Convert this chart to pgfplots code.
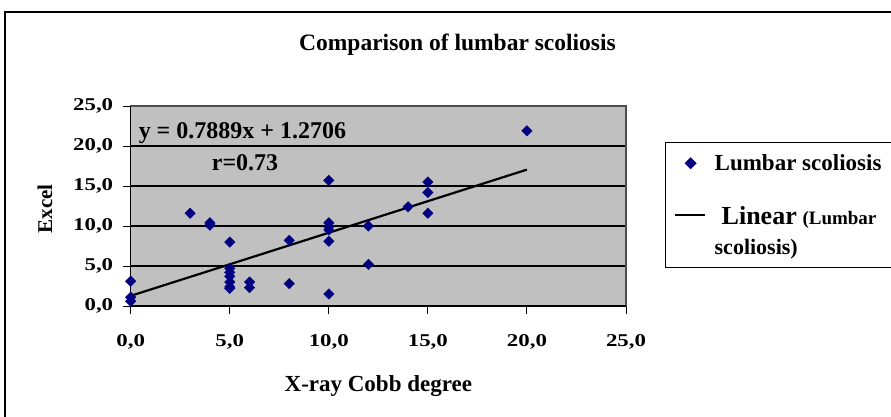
\documentclass[border=0pt]{standalone}
\usepackage{pgfplots}
\pgfplotsset{compat=1.18}
\usepackage{fontspec}
\setmainfont{Liberation Serif}
\newfontfamily\tickfont[FakeStretch=1.27]{Liberation Serif}
\definecolor{plotgray}{HTML}{C0C0C0}
\definecolor{navymark}{HTML}{000080}

\pgfplotsset{
  scatlegend/.style={legend image code/.code={\draw[mark repeat=2,mark phase=2,##1] plot coordinates {(0pt,0pt) (17pt,0pt) (34pt,0pt)};}},
  linelegend/.style={legend image code/.code={\draw[##1] (1pt,16pt) -- (31pt,16pt);}},
}

\pgfplotstableread{
x y
0 3.1
0 1.1
0 0.6
3 11.6
4 10.4
4 10.1
5 8.0
5 4.7
5 4.2
5 3.7
5 3.0
5 2.4
5 2.2
6 3.0
6 2.3
8 8.2
8 2.8
10 15.7
10 10.4
10 9.9
10 9.5
10 8.1
10 1.5
12 10.0
12 5.2
14 12.4
15 15.5
15 14.2
15 11.6
20 21.9
}\scoliosis

\begin{document}
\begin{tikzpicture}[x=1pt,y=1pt]
\useasboundingbox (0,0) rectangle (891,-416);
\clip (0,0) rectangle (891,-416);
\fill[white] (0,0) rectangle (891,-416);
\draw[black, line width=1.4pt] (5,-12) rectangle (1000,-500);
\node[font=\bfseries\fontsize{23.5}{23.5}\selectfont] at (457.5,-45) {Comparison of lumbar scoliosis};
\begin{axis}[
  at={(130.7pt,-306pt)}, anchor=south west,
  scale only axis, width=495.3pt, height=200pt,
  xmin=0, xmax=25, ymin=0, ymax=25,
  clip=false,
  xtick={0,5,10,15,20,25},
  xticklabels={{0,0},{5,0},{10,0},{15,0},{20,0},{25,0}},
  ytick={0,5,10,15,20,25},
  yticklabels={{0,0},{5,0},{10,0},{15,0},{20,0},{25,0}},
  tick align=outside, tick pos=left,
  major tick length=8pt,
  tick style={black, line width=1pt},
  ymajorgrids,
  grid style={black, line width=1.2pt},
  axis background/.style={fill=plotgray},
  axis line style={draw=gray!60!black, line width=1.2pt},
  tick label style={font=\tickfont\bfseries\fontsize{18}{18}\selectfont},
  xticklabel style={anchor=north, yshift=-17pt},
  yticklabel style={anchor=east, xshift=-6pt},
  xlabel={X-ray Cobb degree},
  xlabel style={at={(axis description cs:0.5,-0.40)}, anchor=center, font=\bfseries\fontsize{23}{23}\selectfont},
  ylabel={Excel},
  ylabel style={at={(axis description cs:-0.173,0.485)}, anchor=center, font=\bfseries\fontsize{21}{21}\selectfont},
  legend style={at={(1.0787,0.82)}, anchor=north west, draw=black, line width=1pt, fill=white,
    font=\bfseries\fontsize{23}{30}\selectfont, row sep=30pt, inner xsep=8pt, inner ysep=10pt,
    cells={align=left}},
  legend cell align=left,
]
\addplot[only marks, mark=square*, mark size=3.7pt, mark options={rotate=45, fill=navymark, draw=navymark}, scatlegend]
  table[x=x, y=y] {\scoliosis};
\addlegendentry{\makebox[200pt][l]{\hspace*{7pt}Lumbar scoliosis}}
\addplot[black, line width=2.2pt, no marks, linelegend]
  coordinates {(0,1.2706) (20,17.0486)};
\addlegendentry{\hspace*{14pt}{\fontsize{26}{30}\selectfont Linear} {\fontsize{19}{30}\selectfont(Lumbar}\\\hspace*{7pt}{\fontsize{22}{30}\selectfont scoliosis)}}
\draw[black, line width=1.3pt] (rel axis cs:0,1) -- (rel axis cs:0,0) -- (rel axis cs:1,0);
\node[font=\bfseries\fontsize{24}{24}\selectfont] at (axis cs:5.64,21.6) {y = 0.7889x + 1.2706};
\node[font=\bfseries\fontsize{24}{24}\selectfont] at (axis cs:5.77,17.9) {r=0.73};
\end{axis}
\end{tikzpicture}
\end{document}
